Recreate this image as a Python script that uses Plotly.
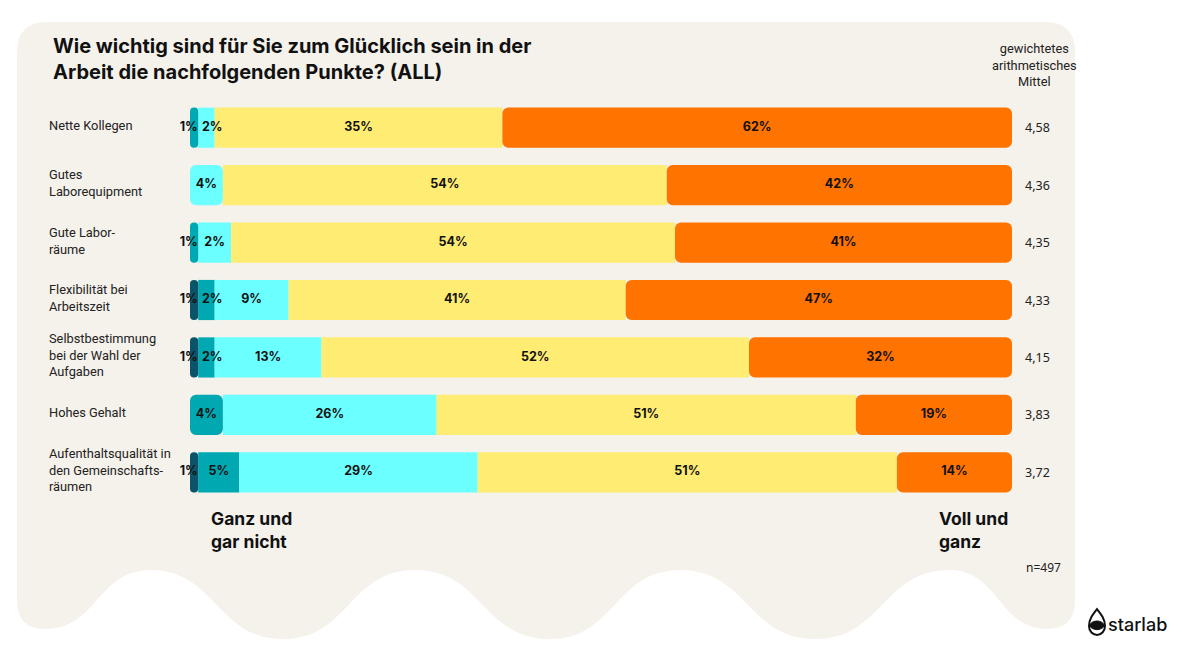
import plotly.graph_objects as go

W, H = 1191, 670

# ---------------- data ----------------
rows = ["Nette Kollegen", "Gutes Laborequipment", "Gute Laborräume",
        "Flexibilität bei Arbeitszeit", "Selbstbestimmung bei der Wahl der Aufgaben",
        "Hohes Gehalt", "Aufenthaltsqualität in den Gemeinschaftsräumen"]
row_labels = ["Nette Kollegen", "Gutes<br>Laborequipment", "Gute Labor-<br>räume",
              "Flexibilität bei<br>Arbeitszeit", "Selbstbestimmung<br>bei der Wahl der<br>Aufgaben",
              "Hohes Gehalt", "Aufenthaltsqualität in<br>den Gemeinschafts-<br>räumen"]

series_names = ["Ganz und gar nicht", "Eher nicht", "Teils/teils", "Eher", "Voll und ganz"]
ganz_gar_nicht = [0, 0, 0, 1, 1, 0, 1]
eher_nicht = [1, 0, 1, 2, 2, 4, 5]
teils = [2, 4, 4, 9, 13, 26, 29]
eher = [35, 54, 54, 41, 52, 51, 51]
voll_ganz = [62, 42, 41, 47, 32, 19, 14]
teils_labels = ["2%", "4%", "2%", "9%", "13%", "26%", "29%"]
means = [4.58, 4.36, 4.35, 4.33, 4.15, 3.83, 3.72]

colors = ["#0b5368", "#00a9b1", "#6bffff", "#ffec73", "#ff7300"]
beige = "#f5f1eb"

series = [ganz_gar_nicht, eher_nicht, teils, eher, voll_ganz]
labels = [[f"{v}%" for v in ganz_gar_nicht], [f"{v}%" for v in eher_nicht],
          teils_labels, [f"{v}%" for v in eher], [f"{v}%" for v in voll_ganz]]

# ---------------- helpers ----------------
def px(x):
    return x / W

def py(y):
    return 1 - y / H

def path_from(cmds):
    out = []
    for c in cmds:
        letter, pts = c[0], c[1:]
        s = letter
        s += " ".join(f"{px(x):.5f},{py(y):.5f}" for x, y in pts)
        out.append(s)
    return " ".join(out)

fig = go.Figure()

n = len(rows)
starts = [[0] * 5 for _ in range(n)]
first = []
for i in range(n):
    c = 0
    f = None
    for j in range(5):
        starts[i][j] = c
        if series[j][i] > 0 and f is None:
            f = j
        c += series[j][i]
    first.append(f)

# normal segments
for j in range(5):
    xs, bs = [], []
    for i in range(n):
        v = series[j][i]
        if v > 0 and j != first[i]:
            xs.append(v)
            bs.append(starts[i][j])
        else:
            xs.append(None)
            bs.append(0)
    fig.add_trace(go.Bar(
        y=rows, x=xs, base=bs, orientation="h", name=series_names[j],
        marker=dict(color=colors[j], line=dict(width=0), cornerradius=6 if j == 4 else 0),
        hoverinfo="skip", showlegend=False))

# rounded left caps (first segment of each row)
cap_x = [-series[first[i]][i] for i in range(n)]
cap_base = [starts[i][first[i]] + series[first[i]][i] for i in range(n)]
cap_col = [colors[first[i]] for i in range(n)]
fig.add_trace(go.Bar(
    y=rows, x=cap_x, base=cap_base, orientation="h",
    marker=dict(color=cap_col, line=dict(width=0), cornerradius=6),
    hoverinfo="skip", showlegend=False))

# segment labels
tx, ty, tt, tp = [], [], [], []
for i in range(n):
    for j in range(5):
        v = series[j][i]
        if v <= 0:
            continue
        s0 = starts[i][j]
        if v <= 1:
            tx.append(s0 + v - 0.05); tp.append("middle left")
        elif v <= 2 and j != first[i]:
            tx.append(s0 + 0.45); tp.append("middle right")
        else:
            tx.append(s0 + v / 2); tp.append("middle center")
        ty.append(rows[i])
        tt.append(labels[j][i])
fig.add_trace(go.Scatter(
    x=tx, y=ty, text=tt, mode="text", textposition=tp, cliponaxis=False,
    textfont=dict(family="Inter", size=12.5, color="#111111", weight=700),
    hoverinfo="skip", showlegend=False))

# ---------------- background shape ----------------
wave = [(950, 570), (815, 639), (680, 570), (550, 639), (415, 570), (283, 639), (150, 570), (45, 629)]
cmds = [("M", (17, 52)), ("Q", (17, 22), (47, 22)), ("L", (1045, 22)),
        ("Q", (1075, 22), (1075, 52)), ("L", (1075, 600)), ("Q", (1075, 629), (1047, 629))]
x0, y0 = 1047, 629
for (x1, y1) in wave:
    xm = (x0 + x1) / 2
    cmds.append(("C", (xm, y0), (xm, y1), (x1, y1)))
    x0, y0 = x1, y1
cmds.append(("Q", (17, 629), (17, 600)))
bg_path = path_from(cmds) + " Z"

shapes = [dict(type="path", xref="paper", yref="paper", path=bg_path,
               fillcolor=beige, line=dict(width=0), layer="below")]

# logo icon
drop = path_from([("M", (1097, 609)), ("C", (1093, 614), (1089, 619), (1089, 626)),
                  ("C", (1089, 631.5), (1093, 635), (1097, 635)),
                  ("C", (1101, 635), (1105, 631.5), (1105, 626)),
                  ("C", (1105, 619), (1101, 614), (1097, 609))]) + " Z"
lens = path_from([("M", (1089.5, 625.5)), ("C", (1092, 619.5), (1102, 619.5), (1104.5, 625.5)),
                  ("C", (1102, 631), (1092, 631), (1089.5, 625.5))]) + " Z"
shapes.append(dict(type="path", xref="paper", yref="paper", path=drop,
                   fillcolor="rgba(0,0,0,0)", line=dict(color="#111111", width=2)))
shapes.append(dict(type="path", xref="paper", yref="paper", path=lens,
                   fillcolor="#111111", line=dict(color="#111111", width=1)))

# ---------------- annotations ----------------
ann = []
ann.append(dict(xref="paper", yref="paper", x=px(51), y=py(59), xanchor="left", yanchor="middle",
                align="left", showarrow=False,
                text="Wie wichtig sind für Sie zum Glücklich sein in der<br>Arbeit die nachfolgenden Punkte? (ALL)",
                font=dict(family="Inter", size=20, color="#111111", weight=700)))
for i in range(n):
    ann.append(dict(xref="paper", yref="y", x=px(47), y=rows[i], xanchor="left", yanchor="middle",
                    align="left", showarrow=False, yshift=2, text=row_labels[i],
                    font=dict(family="Roboto", size=12.8, color="#222222")))
    ann.append(dict(xref="paper", yref="y", x=px(1037), y=rows[i], xanchor="center", yanchor="middle",
                    showarrow=False, text=f"{means[i]:.2f}".replace(".", ","),
                    font=dict(family="Noto Sans", size=12.5, color="#222222")))
ann.append(dict(xref="paper", yref="paper", x=px(1034), y=py(65), xanchor="center", yanchor="middle",
                showarrow=False, text="gewichtetes<br>arithmetisches<br>Mittel",
                font=dict(family="Roboto", size=12.8, color="#222222")))
ann.append(dict(xref="paper", yref="paper", x=px(209), y=py(530), xanchor="left", yanchor="middle",
                align="left", showarrow=False, text="Ganz und<br>gar nicht",
                font=dict(family="Inter", size=17.5, color="#111111", weight=700)))
ann.append(dict(xref="paper", yref="paper", x=px(937), y=py(530), xanchor="left", yanchor="middle",
                align="left", showarrow=False, text="Voll und<br>ganz",
                font=dict(family="Inter", size=17.5, color="#111111", weight=700)))
ann.append(dict(xref="paper", yref="paper", x=px(1043), y=py(567), xanchor="center", yanchor="middle",
                showarrow=False, text="n=497",
                font=dict(family="Noto Sans", size=12, color="#222222")))
ann.append(dict(xref="paper", yref="paper", x=px(1106), y=py(624), xanchor="left", yanchor="middle",
                showarrow=False, text="starlab",
                font=dict(family="Inter", size=18, color="#111111", weight=500)))

fig.update_layout(
    width=W, height=H, autosize=False,
    margin=dict(l=0, r=0, t=0, b=0, pad=0),
    paper_bgcolor="white", plot_bgcolor="rgba(0,0,0,0)",
    barmode="overlay", bargap=0.3,
    xaxis=dict(domain=[px(190), px(1012)], range=[0, 100], visible=False, fixedrange=True),
    yaxis=dict(domain=[py(501), py(99)], categoryorder="array", categoryarray=rows,
               autorange="reversed", visible=False, fixedrange=True),
    shapes=shapes, annotations=ann,
)

fig.write_html("out.html", config={"displayModeBar": False},
               post_script="document.body.style.margin='0';document.body.style.overflow='hidden';")
